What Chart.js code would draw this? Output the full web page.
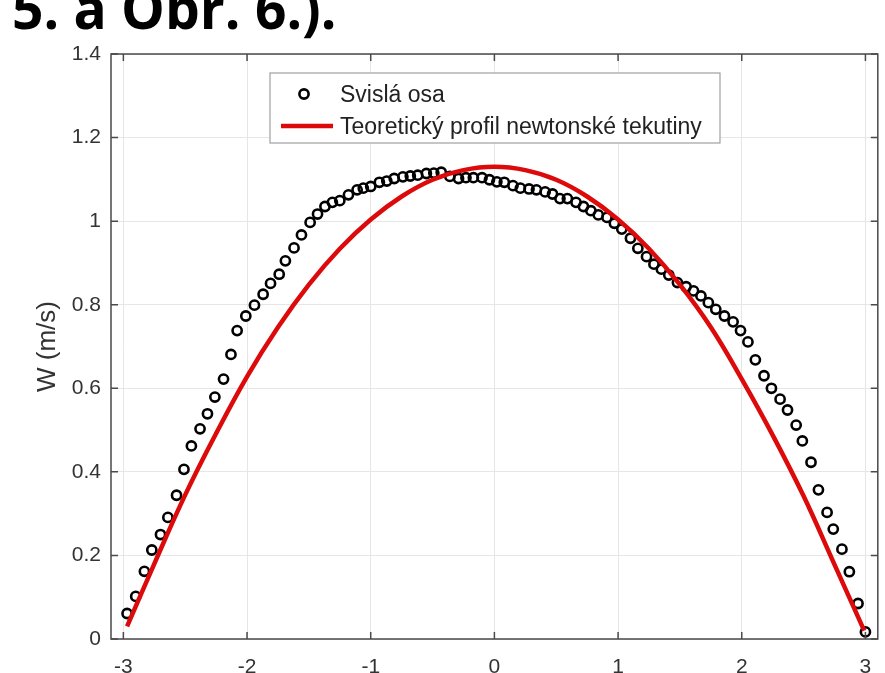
<!DOCTYPE html>
<html>
<head>
<meta charset="utf-8">
<script src="https://cdn.jsdelivr.net/npm/chart.js@4.4.1/dist/chart.umd.min.js"></script>
<style>
  html, body { margin: 0; padding: 0; background: #fff; }
  #wrap { position: relative; width: 885px; height: 673px; overflow: hidden; }
  #heading { position: absolute; left: 12px; top: -22px; font-family: "Open Sans"; font-weight: 700;
             font-size: 58px; line-height: 58px; color: #000; white-space: nowrap;
             transform: scaleX(0.95); transform-origin: left top; }
  #chart { position: absolute; left: 0; top: 0; }
</style>
</head>
<body>
<div id="wrap">
  <canvas id="chart" width="885" height="673"></canvas>
  <div id="heading">5. a Obr. 6.).</div>
</div>
<script>
// measured points (Svislá osa)
const svislaX = [-2.97,-2.90,-2.83,-2.77,-2.70,-2.64,-2.57,-2.51,-2.45,-2.38,
  -2.32,-2.26,-2.19,-2.13,-2.08,-2.01,-1.94,-1.87,-1.81,-1.74,
  -1.69,-1.62,-1.56,-1.49,-1.43,-1.37,-1.31,-1.25,-1.18,-1.11,
  -1.06,-1.00,-0.93,-0.87,-0.81,-0.74,-0.68,-0.62,-0.55,-0.49,
  -0.43,-0.36,-0.29,-0.23,-0.17,-0.10,-0.04,0.02,0.08,0.15,
  0.21,0.28,0.34,0.41,0.47,0.53,0.59,0.66,0.72,0.78,
  0.84,0.91,0.97,1.03,1.10,1.16,1.23,1.29,1.35,1.41,
  1.48,1.55,1.61,1.67,1.73,1.79,1.86,1.93,1.99,2.05,
  2.11,2.18,2.24,2.31,2.37,2.44,2.49,2.56,2.62,2.69,
  2.74,2.81,2.87,2.94,3.00];
const svislaW = [0.061,0.102,0.162,0.213,0.250,0.291,0.344,0.406,0.462,0.503,
  0.539,0.579,0.622,0.681,0.738,0.773,0.799,0.825,0.851,0.873,
  0.905,0.936,0.967,0.997,1.017,1.035,1.045,1.049,1.063,1.075,
  1.079,1.083,1.093,1.096,1.102,1.106,1.108,1.110,1.114,1.115,
  1.117,1.107,1.102,1.104,1.104,1.104,1.099,1.094,1.093,1.085,
  1.079,1.077,1.075,1.070,1.065,1.054,1.054,1.045,1.035,1.025,
  1.015,1.009,0.995,0.981,0.959,0.935,0.915,0.897,0.885,0.871,
  0.853,0.843,0.833,0.821,0.805,0.789,0.773,0.759,0.738,0.711,
  0.668,0.630,0.600,0.574,0.548,0.512,0.474,0.423,0.357,0.303,
  0.263,0.215,0.161,0.085,0.017];

// theoretical newtonian profile
const teorX = [-2.97,-2.75,-2.5,-2.25,-2,-1.75,-1.5,-1.25,-1,-0.75,-0.5,-0.25,0,
  0.25,0.5,0.75,1,1.25,1.5,1.75,2,2.25,2.5,2.75,2.99];
const teorW = [0.03,0.18,0.345,0.492,0.628,0.746,0.848,0.934,1.004,1.059,1.099,1.122,1.13,
  1.122,1.099,1.059,1.004,0.934,0.848,0.746,0.622,0.488,0.342,0.178,0.02];

const xTicks = [-3, -2, -1, 0, 1, 2, 3];
const yTicks = [0, 0.2, 0.4, 0.6, 0.8, 1, 1.2, 1.4];
const labels = ["Svislá osa", "Teoretický profil newtonské tekutiny"];

const frameColor = "#4a4a4a";
const gridColor = "#e6e6e6";
const tickFont = { family: "Liberation Sans, Arial, sans-serif", size: 21 };

// box, inward ticks and the legend, drawn over the plot like MATLAB does
const axesBox = {
  id: "axesBox",
  afterDatasetsDraw(chart) {
    const { ctx, chartArea: a, scales } = chart;
    ctx.save();
    ctx.strokeStyle = frameColor;
    ctx.lineWidth = 1.5;
    ctx.beginPath();
    xTicks.forEach(v => {
      const px = scales.x.getPixelForValue(v);
      ctx.moveTo(px, a.bottom); ctx.lineTo(px, a.bottom - 7);
      ctx.moveTo(px, a.top); ctx.lineTo(px, a.top + 7);
    });
    yTicks.forEach(v => {
      const py = scales.y.getPixelForValue(v);
      ctx.moveTo(a.left, py); ctx.lineTo(a.left + 7, py);
      ctx.moveTo(a.right, py); ctx.lineTo(a.right - 7, py);
    });
    ctx.stroke();
    ctx.strokeRect(a.left, a.top, a.right - a.left, a.bottom - a.top);
    ctx.restore();
  },
  afterDraw(chart) {
    const ctx = chart.ctx;
    const ds = chart.data.datasets;
    ctx.save();
    ctx.fillStyle = "#fff";
    ctx.fillRect(270, 73, 450, 70);
    ctx.strokeStyle = "#a0a0a0";
    ctx.lineWidth = 1.2;
    ctx.strokeRect(270, 73, 450, 70);

    ctx.strokeStyle = ds[0].borderColor;
    ctx.lineWidth = ds[0].borderWidth;
    ctx.beginPath();
    ctx.arc(304, 94, ds[0].pointRadius, 0, Math.PI * 2);
    ctx.stroke();

    ctx.strokeStyle = ds[1].borderColor;
    ctx.lineWidth = ds[1].borderWidth;
    ctx.beginPath();
    ctx.moveTo(281, 126); ctx.lineTo(333, 126);
    ctx.stroke();

    ctx.fillStyle = "#222";
    ctx.font = "23px Liberation Sans, Arial, sans-serif";
    ctx.textBaseline = "alphabetic";
    ctx.fillText(labels[0], 340, 102);
    ctx.fillText(labels[1], 340, 134);
    ctx.restore();
  }
};

new Chart(document.getElementById("chart"), {
  type: "scatter",
  data: {
    datasets: [
      {
        label: labels[0],
        data: svislaX.map((x, i) => ({ x, y: svislaW[i] })),
        showLine: false,
        pointStyle: "circle",
        pointRadius: 4.6,
        borderWidth: 2.6,
        borderColor: "#000",
        backgroundColor: "rgba(0,0,0,0)",
        order: 1
      },
      {
        label: labels[1],
        type: "line",
        data: teorX.map((x, i) => ({ x, y: teorW[i] })),
        showLine: true,
        pointRadius: 0,
        borderWidth: 4.5,
        borderColor: "#dc0a0a",
        tension: 0.4,
        fill: false,
        order: 0
      }
    ]
  },
  options: {
    responsive: false,
    animation: false,
    layout: { padding: { top: 54, right: 6, left: 0, bottom: 0 } },
    plugins: {
      legend: { display: false },
      tooltip: { enabled: false }
    },
    scales: {
      x: {
        type: "linear",
        min: -3.1,
        max: 3.1,
        afterFit: s => { s.height = 34; s.paddingLeft = 0; s.paddingRight = 0; },
        afterBuildTicks: s => { s.ticks = xTicks.map(v => ({ value: v })); },
        ticks: {
          includeBounds: false,
          padding: 16,
          color: "#333",
          font: tickFont,
          callback: v => String(v)
        },
        grid: { color: gridColor, lineWidth: 1, drawTicks: false },
        border: { display: false }
      },
      y: {
        type: "linear",
        min: 0,
        max: 1.4,
        afterFit: s => { s.width = 111; s.paddingTop = 0; s.paddingBottom = 0; },
        afterBuildTicks: s => { s.ticks = yTicks.map(v => ({ value: v })); },
        ticks: {
          padding: 10,
          color: "#333",
          font: tickFont,
          callback: v => String(+v.toFixed(1))
        },
        grid: { color: gridColor, lineWidth: 1, drawTicks: false },
        border: { display: false },
        title: {
          display: true,
          text: "W (m/s)",
          color: "#333",
          font: { family: "Liberation Sans, Arial, sans-serif", size: 26 },
          padding: { top: 32, bottom: 0 }
        }
      }
    }
  },
  plugins: [axesBox]
});
</script>
</body>
</html>
